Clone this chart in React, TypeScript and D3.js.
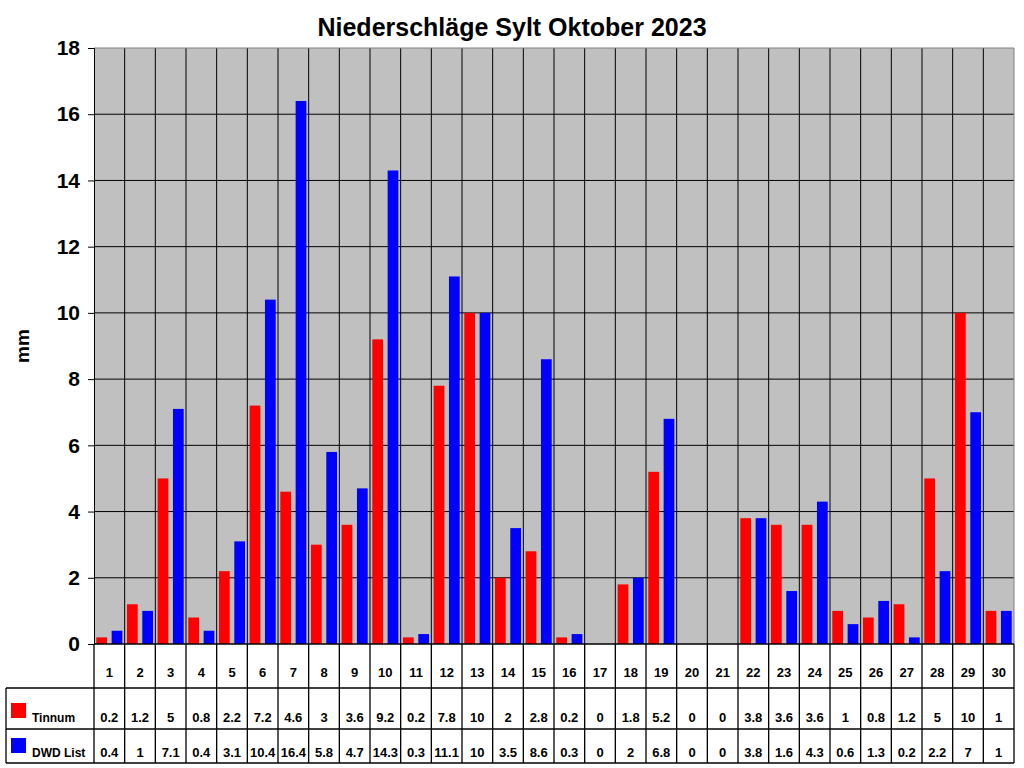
import React, { useEffect, useRef } from 'react';
import * as d3 from 'd3';

// Tagesdaten Oktober 2023
const days = Array.from({ length: 30 }, (_, i) => String(i + 1));
const seriesNames = ['Tinnum', 'DWD List'];
const seriesColors = ['#ff0000', '#0000ff'];
const tinnum = [0.2, 1.2, 5, 0.8, 2.2, 7.2, 4.6, 3, 3.6, 9.2, 0.2, 7.8, 10, 2, 2.8, 0.2, 0, 1.8, 5.2, 0, 0, 3.8, 3.6, 3.6, 1, 0.8, 1.2, 5, 10, 1];
const dwdList = [0.4, 1, 7.1, 0.4, 3.1, 10.4, 16.4, 5.8, 4.7, 14.3, 0.3, 11.1, 10, 3.5, 8.6, 0.3, 0, 2, 6.8, 0, 0, 3.8, 1.6, 4.3, 0.6, 1.3, 0.2, 2.2, 7, 1];
const yTicks = [0, 2, 4, 6, 8, 10, 12, 14, 16, 18];

const App: React.FC = () => {
  const svgRef = useRef<SVGSVGElement>(null);

  useEffect(() => {
    if (!svgRef.current) return;
    const svg = d3.select(svgRef.current);
    svg.selectAll('*').remove();

    const W = 1024, H = 768;
    const left = 94, right = 1014, top = 48, bottom = 644;
    const font = 'Arial, "Liberation Sans", sans-serif';
    const series = [tinnum, dwdList];

    svg.attr('width', W).attr('height', H).style('font-family', font);
    svg.append('rect').attr('width', W).attr('height', H).attr('fill', '#fff');

    const x = d3.scaleBand<string>().domain(days).range([left, right]).padding(0);
    const x1 = d3.scaleBand<string>().domain(seriesNames).range([0, x.bandwidth()])
      .paddingInner(0.3).paddingOuter(0.15);
    const y = d3.scaleLinear().domain([0, 18]).range([bottom, top]);

    // Plotfläche
    svg.append('rect').attr('x', left).attr('y', top)
      .attr('width', right - left).attr('height', bottom - top).attr('fill', '#c0c0c0');

    // horizontale Gitterlinien
    svg.append('g').selectAll('line').data(yTicks.filter(t => t > 0 && t < 18)).enter().append('line')
      .attr('x1', left).attr('x2', right).attr('y1', d => y(d)).attr('y2', d => y(d))
      .attr('stroke', '#000').attr('stroke-width', 1);

    // vertikale Gitterlinien (zwischen Tagen)
    svg.append('g').selectAll('line').data(days.slice(1)).enter().append('line')
      .attr('x1', d => x(d)!).attr('x2', d => x(d)!).attr('y1', top).attr('y2', bottom)
      .attr('stroke', '#000').attr('stroke-width', 1);

    // Rand der Plotfläche
    svg.append('line').attr('x1', left).attr('x2', right).attr('y1', top).attr('y2', top)
      .attr('stroke', '#808080');
    svg.append('line').attr('x1', right).attr('x2', right).attr('y1', top).attr('y2', bottom)
      .attr('stroke', '#808080');

    // Balken
    series.forEach((vals, si) => {
      svg.append('g').selectAll('rect').data(vals).enter().append('rect')
        .attr('x', (_, i) => x(days[i])! + x1(seriesNames[si])!)
        .attr('width', x1.bandwidth())
        .attr('y', d => y(d))
        .attr('height', d => bottom - y(d))
        .attr('fill', seriesColors[si]);
    });

    // y-Achse
    const yAxis = svg.append('g').attr('transform', `translate(${left},0)`)
      .call(d3.axisLeft(y).tickValues(yTicks).tickSize(6).tickPadding(8).tickFormat(d3.format('d')));
    yAxis.select('.domain').attr('stroke', '#000');
    yAxis.selectAll('text').attr('font-size', 21).attr('font-weight', 'bold')
      .attr('font-family', font).attr('fill', '#000');

    svg.append('text').attr('transform', `translate(29,${(top + bottom) / 2}) rotate(-90)`)
      .attr('text-anchor', 'middle').attr('font-size', 19).attr('font-weight', 'bold').text('mm');

    svg.append('text').attr('x', 512).attr('y', 36).attr('text-anchor', 'middle')
      .attr('font-size', 25).attr('font-weight', 'bold').text('Niederschläge Sylt Oktober 2023');

    // Datentabelle
    const row1 = 688, row2 = 729, row3 = 763, tableLeft = 6;
    const tbl = svg.append('g').attr('stroke', '#000').attr('stroke-width', 1.3);
    tbl.append('line').attr('x1', left).attr('x2', left).attr('y1', bottom).attr('y2', row3);
    tbl.append('line').attr('x1', right).attr('x2', right).attr('y1', bottom).attr('y2', row3);
    tbl.append('line').attr('x1', left).attr('x2', right).attr('y1', bottom).attr('y2', bottom);
    [row1, row2, row3].forEach(ry => {
      tbl.append('line').attr('x1', tableLeft).attr('x2', right).attr('y1', ry).attr('y2', ry);
    });
    tbl.append('line').attr('x1', tableLeft).attr('x2', tableLeft).attr('y1', row1).attr('y2', row3);
    tbl.selectAll('line.sep').data(days.slice(1)).enter().append('line').attr('class', 'sep')
      .attr('x1', d => x(d)!).attr('x2', d => x(d)!).attr('y1', bottom).attr('y2', row3);

    const cx = (d: string) => x(d)! + x.bandwidth() / 2;
    svg.append('g').selectAll('text').data(days).enter().append('text')
      .attr('x', cx).attr('y', 677).attr('text-anchor', 'middle')
      .attr('font-size', 13).attr('font-weight', 'bold').text(d => d);

    const rowY = [722, 757];
    series.forEach((vals, si) => {
      svg.append('g').selectAll('text').data(vals).enter().append('text')
        .attr('x', (_, i) => cx(days[i])).attr('y', rowY[si]).attr('text-anchor', 'middle')
        .attr('font-size', 13).attr('font-weight', 'bold').text(d => String(d));
      svg.append('rect').attr('x', 11).attr('y', rowY[si] - 19).attr('width', 15).attr('height', 15)
        .attr('fill', seriesColors[si]);
      svg.append('text').attr('x', 32).attr('y', rowY[si]).attr('font-size', 12)
        .attr('font-weight', 'bold').text(seriesNames[si]);
    });
  }, []);

  return <svg ref={svgRef} style={{ display: 'block', position: 'absolute', left: 0, top: 0 }} />;
};

export default App;
